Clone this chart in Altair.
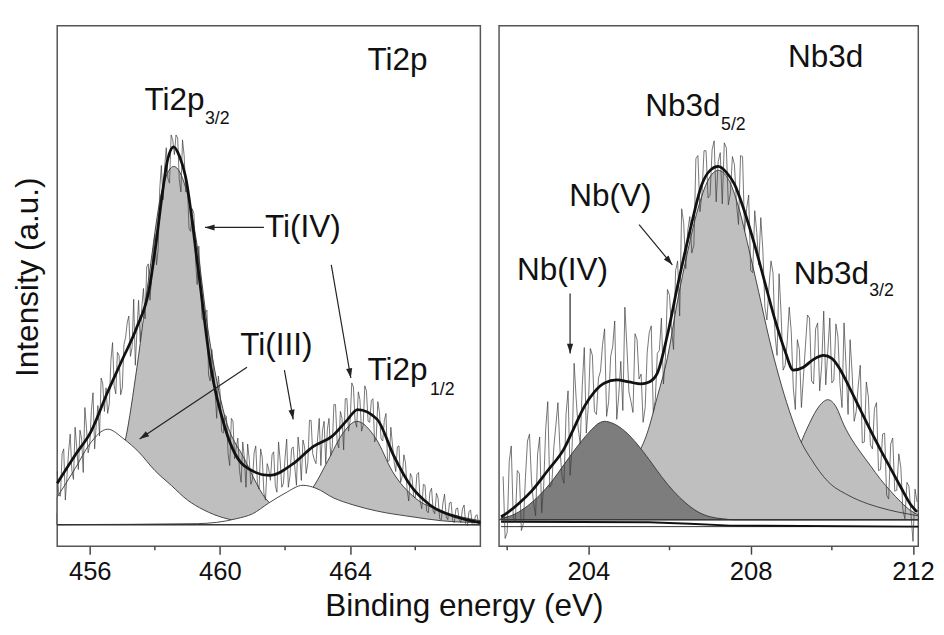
import altair as alt
import pandas as pd

FONT = "Liberation Sans"

# ---------------- Ti2p panel ----------------
ti_xdom = [455.0, 468.0]
ti_major = [456, 460, 464]
ti_minor = [458, 462, 466]
ti_base = 22

# raw spectrum, sampled every 0.05 eV (two interleaved lists)
ti_raw_ev = [round(455.0 + 0.1 * i, 2) for i in range(131)]
ti_raw_int = [76, 51, 99, 71, 114, 68, 100, 118, 75, 120,
              103, 156, 124, 112, 165, 161, 145, 207, 155, 194,
              161, 212, 234, 202, 184, 250, 243, 231, 287, 274,
              317, 301, 387, 385, 374, 418, 398, 415, 360, 397,
              365, 320, 338, 266, 274, 230, 240, 168, 178, 130,
              158, 115, 132, 82, 127, 100, 77, 106, 60, 88,
              68, 102, 58, 90, 47, 78, 93, 62, 106, 60,
              90, 60, 99, 80, 111, 67, 101, 85, 128, 88,
              110, 82, 127, 119, 92, 144, 106, 137, 98, 150,
              128, 162, 121, 149, 123, 158, 126, 150, 110, 136,
              107, 135, 87, 103, 76, 102, 71, 85, 46, 70,
              49, 75, 38, 62, 34, 59, 33, 49, 27, 53,
              27, 45, 24, 39, 24, 42, 21, 37, 22, 32, 22]
ti_raw_mid_ev = [round(455.05 + 0.1 * i, 2) for i in range(130)]
ti_raw_mid_int = [52, 94, 47, 96, 77, 121, 78, 109, 141, 95,
                  138, 99, 143, 171, 137, 135, 189, 163, 197, 154,
                  205, 227, 193, 251, 219, 208, 262, 284, 250, 301,
                  286, 363, 352, 405, 369, 413, 418, 373, 413, 360,
                  323, 343, 291, 305, 231, 237, 174, 200, 157, 173,
                  117, 133, 94, 130, 89, 110, 65, 90, 104, 63,
                  95, 64, 99, 54, 84, 67, 96, 55, 87, 64,
                  109, 71, 101, 62, 95, 108, 74, 128, 94, 84,
                  130, 118, 84, 130, 101, 144, 100, 130, 150, 117,
                  166, 128, 157, 117, 163, 127, 148, 106, 147, 109,
                  128, 86, 121, 86, 101, 65, 93, 57, 74, 51,
                  73, 46, 63, 36, 55, 36, 54, 28, 44, 30,
                  44, 26, 38, 27, 38, 23, 35, 22, 31, 22]

ti_env_ev = [455.0, 455.58, 456.03, 456.54, 456.99, 457.44, 457.83, 458.04, 458.22, 458.4,
             458.58, 458.76, 458.94, 459.33, 459.72, 460.14, 460.74, 461.53, 462.25, 462.85,
             463.45, 463.9, 464.23, 464.83, 465.34, 465.85, 466.45, 467.35, 468.0]
ti_env_int = [64, 94, 116, 156, 189, 222, 262, 309, 356, 394,
              406, 396, 376, 282, 182, 122, 82, 72, 84, 101,
              112, 128, 139, 129, 92, 62, 42, 29, 24]

# Ti(IV) 2p3/2 (grey)
ti4_32_ev = [455.0, 456.0, 456.6, 457.1, 457.45, 457.85, 458.2, 458.58, 458.95, 459.25,
             459.65, 460.15, 460.75, 461.5, 462.3, 463.5, 465.3, 468.0]
ti4_32_int = [34, 44, 69, 109, 182, 282, 359, 386, 364, 316,
              216, 132, 89, 45, 33, 27, 24, 22]
# Ti(IV) 2p1/2 (grey)
ti4_12_ev = [455.0, 460.8, 462.0, 462.9, 463.3, 463.8, 464.2, 464.8, 465.3, 466.0, 466.8, 468.0]
ti4_12_int = [22, 24, 34, 62, 86, 116, 127, 109, 76, 49, 36, 26]
# Ti(III) 2p3/2 (white)
ti3_32_ev = [455.0, 455.55, 456.0, 456.55, 457.05, 457.5, 458.0, 458.5, 459.0, 459.5,
             460.1, 461.1, 462.3, 468.0]
ti3_32_int = [50, 79, 104, 119, 109, 96, 77, 62, 47, 37, 29, 24, 23, 22]
# Ti(III) 2p1/2 (white)
ti3_12_ev = [455.0, 459.3, 460.5, 461.0, 461.5, 462.0, 462.55, 462.95, 463.5, 464.1,
             464.8, 465.9, 466.8, 468.0]
ti3_12_int = [22, 23, 28, 33, 44, 54, 62, 59, 49, 42, 36, 30, 26, 24]

ti_label_text = ["Ti2p", "Ti2p", "Ti(IV)", "Ti(III)", "Ti2p"]
ti_label_ev = [464.53, 457.68, 461.38, 460.62, 464.53]
ti_label_int = [484, 443, 314, 194, 169]
ti_sub_text = ["3/2", "1/2"]
ti_sub_ev = [459.54, 466.45]
ti_sub_int = [429, 154]

ti_arrow_from_ev = [461.35, 463.42, 460.83, 461.98]
ti_arrow_from_int = [324, 286, 182, 179]
ti_arrow_to_ev = [459.54, 464.02, 457.53, 462.25]
ti_arrow_to_int = [324, 171, 109, 129]
ti_arrow_angle = [270, 170, 236, 170]

# ---------------- Nb3d panel ----------------
nb_xdom = [201.8, 212.13]
nb_major = [204, 208, 212]
nb_minor = [202, 206, 210]
nb_base = 27

nb_raw_ev = [round(201.9 + 0.1 * i, 2) for i in range(103)]
nb_raw_int = [71, 14, 102, 25, 74, 23, 107, 66, 31, 111,
              62, 147, 63, 123, 99, 64, 158, 101, 150, 104,
              202, 143, 194, 134, 178, 221, 147, 203, 129, 188,
              243, 157, 136, 210, 175, 141, 217, 136, 196, 232,
              192, 255, 200, 290, 343, 282, 335, 306, 397, 358,
              402, 357, 412, 391, 348, 405, 359, 388, 327, 396,
              343, 280, 341, 286, 301, 230, 290, 215, 277, 179,
              208, 218, 139, 200, 172, 235, 168, 221, 158, 239,
              198, 166, 226, 165, 227, 134, 176, 137, 184, 106,
              152, 99, 146, 78, 115, 48, 110, 57, 80, 28,
              61, 5, 45]
nb_raw_mid_ev = [round(201.95 + 0.1 * i, 2) for i in range(102)]
nb_raw_mid_int = [8, 86, 29, 77, 16, 70, 114, 44, 94, 34,
                  120, 60, 101, 146, 72, 134, 72, 186, 120, 163,
                  115, 201, 137, 171, 205, 132, 193, 229, 154, 138,
                  203, 147, 216, 170, 126, 197, 224, 149, 199, 165,
                  261, 220, 280, 234, 328, 321, 298, 394, 340, 402,
                  354, 403, 350, 400, 410, 347, 396, 348, 397, 320,
                  357, 278, 319, 334, 243, 263, 278, 194, 236, 184,
                  243, 161, 210, 141, 204, 232, 165, 227, 184, 164,
                  232, 169, 213, 141, 183, 210, 127, 163, 105, 167,
                  103, 140, 77, 114, 52, 104, 56, 94, 37, 65,
                  33, 58]

nb_env_ev = [201.85, 202.0, 202.3, 202.6, 203.0, 203.4, 203.7, 203.9, 204.15, 204.4,
             204.7, 205.0, 205.3, 205.5, 205.7, 205.95, 206.2, 206.5, 206.8, 207.0,
             207.2, 207.4, 207.6, 207.85, 208.1, 208.35, 208.6, 208.85, 209.05, 209.3,
             209.55, 209.8, 210.0, 210.2, 210.45, 210.7, 210.95, 211.2, 211.45, 211.7,
             211.95, 212.1]
nb_env_int = [30, 34, 44, 56, 77, 99, 125, 142, 157, 166,
              169, 167, 165, 167, 176, 215, 265, 320, 368, 382,
              386, 380, 368, 340, 306, 268, 230, 198, 179, 182,
              190, 194, 191, 180, 160, 139, 118, 98, 79, 60,
              42, 35]

# Nb(IV) 3d5/2 (dark grey)
nb4_ev = [201.85, 202.2, 202.5, 202.8, 203.1, 203.4, 203.7, 204.0, 204.3, 204.4,
          204.6, 204.9, 205.2, 205.5, 205.8, 206.1, 206.4, 206.7, 207.0, 207.3, 207.6, 212.13]
nb4_int = [28, 33, 41, 52, 66, 83, 100, 115, 126, 127,
           125, 117, 104, 88, 71, 56, 44, 35, 30, 28, 27, 27]
# Nb(V) 3d5/2 (light grey)
nb5_52_ev = [201.85, 202.5, 203.0, 203.5, 204.0, 204.5, 205.0, 205.2, 205.45, 205.7,
             205.95, 206.2, 206.45, 206.7, 206.95, 207.2, 207.45, 207.7, 207.95, 208.2,
             208.45, 208.7, 208.95, 209.2, 209.5, 209.9, 210.4, 210.9, 211.4, 212.13]
nb5_52_int = [29, 33, 38, 45, 54, 66, 82, 92, 115, 152,
              192, 250, 300, 343, 372, 382, 373, 345, 303, 258,
              212, 172, 138, 110, 88, 66, 52, 43, 37, 31]
# Nb(V) 3d3/2 (light grey)
nb5_32_ev = [201.85, 207.5, 208.0, 208.5, 208.8, 209.0, 209.2, 209.45, 209.7, 209.9,
             210.1, 210.3, 210.5, 210.7, 210.95, 211.2, 211.45, 211.7, 211.95, 212.13]
nb5_32_int = [27, 28, 31, 38, 50, 70, 100, 125, 143, 149,
              142, 123, 108, 96, 82, 68, 56, 45, 36, 32]

nb_line0_ev = [201.85, 212.13]
nb_line0_int = [20, 20]
nb_shirley_ev = [201.85, 205.5, 206.5, 207.5, 212.13]
nb_shirley_int = [25, 24.5, 23, 21, 20]

nb_label_text = ["Nb3d", "Nb3d", "Nb(V)", "Nb(IV)", "Nb3d"]
nb_label_ev = [208.92, 205.40, 203.53, 202.24, 209.06]
nb_label_int = [487, 437, 346, 271, 267]
nb_sub_text = ["5/2", "3/2"]
nb_sub_ev = [207.27, 210.92]
nb_sub_int = [423, 254]

nb_arrow_from_ev = [205.25, 203.55]
nb_arrow_from_int = [327, 257]
nb_arrow_to_ev = [206.07, 203.55]
nb_arrow_to_int = [286, 196]
nb_arrow_angle = [140, 180]

LIGHT = "#bfbfbf"
DARK = "#7d7d7d"
INK = "#111111"
TICK = "#444444"


def df(ev, it):
    return pd.DataFrame({"ev": ev, "val": it})


def panel(xdom, width, comps, base_val, lines, raw, env, labels, subs, arrows,
          major, minor, ytitle):
    scale_x = alt.Scale(domain=xdom, nice=False, zero=False)
    scale_y = alt.Scale(domain=[0, 529], nice=False, zero=False)
    major_axis = alt.Axis(values=major, title=None, grid=False, domain=False,
                          tickSize=8, tickWidth=1.5, tickColor=TICK,
                          labelFont=FONT, labelFontSize=26, labelColor=INK,
                          labelPadding=5, labelFlush=False, labelOverlap=False,
                          orient="bottom")
    if ytitle:
        yaxis = alt.Axis(title=ytitle, labels=False, ticks=False, domain=False,
                         grid=False, titleFont=FONT, titleFontSize=32,
                         titleFontWeight="normal", titleColor=INK,
                         titlePadding=13, titleY=255)
    else:
        yaxis = None

    def X():
        return alt.X("ev:Q", scale=scale_x, axis=major_axis)

    def Y():
        return alt.Y("val:Q", scale=scale_y, axis=yaxis)

    layers = []
    for d, fill in comps:
        layers.append(
            alt.Chart(d).mark_area(fill=fill, stroke="#333", strokeWidth=0.9,
                                   interpolate="monotone")
            .encode(x=X(), y=Y(), y2=alt.datum(base_val)))
    for d, color, w in lines:
        layers.append(alt.Chart(d).mark_line(color=color, strokeWidth=w)
                      .encode(x=X(), y=Y()))
    layers.append(alt.Chart(raw).mark_line(color="#3a3a3a", strokeWidth=0.7)
                  .encode(x=X(), y=Y()))
    layers.append(alt.Chart(env).mark_line(color=INK, strokeWidth=2.8,
                                           interpolate="monotone")
                  .encode(x=X(), y=Y()))
    layers.append(alt.Chart(labels).mark_text(align="left", baseline="alphabetic",
                                              font=FONT, fontSize=32, color=INK)
                  .encode(x=X(), y=Y(), text="t:N"))
    layers.append(alt.Chart(subs).mark_text(align="left", baseline="alphabetic",
                                            font=FONT, fontSize=18, color=INK)
                  .encode(x=X(), y=Y(), text="t:N"))
    seg, heads = arrows
    layers.append(alt.Chart(seg).mark_line(color="#222", strokeWidth=1.2)
                  .encode(x=X(), y=Y(), detail="id:N"))
    layers.append(alt.Chart(heads).mark_point(shape="M0,0L-0.32,1L0.32,1Z",
                                              filled=True, size=380, color="#222",
                                              opacity=1, strokeWidth=0)
                  .encode(x=X(), y=Y(), angle=alt.Angle("ang:Q", scale=None)))
    # minor tick marks (half length) below the frame
    layers.append(alt.Chart(pd.DataFrame({"ev": minor})).mark_rule(
        color=TICK, strokeWidth=1.5).encode(
        x=X(), y=alt.value(529), y2=alt.value(533)))
    return alt.layer(*layers).properties(width=width, height=529)


def arrow_frames(fe, fi, te, ti, ang):
    rows = []
    for k in range(len(fe)):
        rows.append({"id": k, "ev": fe[k], "val": fi[k]})
        rows.append({"id": k, "ev": te[k], "val": ti[k]})
    return pd.DataFrame(rows), pd.DataFrame({"ev": te, "val": ti, "ang": ang})


ti_raw = df(ti_raw_ev + ti_raw_mid_ev, ti_raw_int + ti_raw_mid_int).sort_values("ev")
nb_raw = df(nb_raw_ev + nb_raw_mid_ev, nb_raw_int + nb_raw_mid_int).sort_values("ev")

ti_panel = panel(
    ti_xdom, 430,
    [(df(ti4_32_ev, ti4_32_int), LIGHT), (df(ti4_12_ev, ti4_12_int), LIGHT),
     (df(ti3_32_ev, ti3_32_int), "white"), (df(ti3_12_ev, ti3_12_int), "white")],
    ti_base,
    [(df(ti_xdom, [ti_base, ti_base]), "#333", 1.0)],
    ti_raw, df(ti_env_ev, ti_env_int),
    pd.DataFrame({"t": ti_label_text, "ev": ti_label_ev, "val": ti_label_int}),
    pd.DataFrame({"t": ti_sub_text, "ev": ti_sub_ev, "val": ti_sub_int}),
    arrow_frames(ti_arrow_from_ev, ti_arrow_from_int, ti_arrow_to_ev,
                 ti_arrow_to_int, ti_arrow_angle),
    ti_major, ti_minor, "Intensity (a.u.)")

nb_panel = panel(
    nb_xdom, 426,
    [(df(nb5_32_ev, nb5_32_int), LIGHT), (df(nb5_52_ev, nb5_52_int), LIGHT),
     (df(nb4_ev, nb4_int), DARK)],
    nb_base,
    [(df(nb_line0_ev, nb_line0_int), "#333", 1.0),
     (df(nb_xdom, [nb_base, nb_base]), "#333", 0.9),
     (df(nb_shirley_ev, nb_shirley_int), "#111", 2.0)],
    nb_raw, df(nb_env_ev, nb_env_int),
    pd.DataFrame({"t": nb_label_text, "ev": nb_label_ev, "val": nb_label_int}),
    pd.DataFrame({"t": nb_sub_text, "ev": nb_sub_ev, "val": nb_sub_int}),
    arrow_frames(nb_arrow_from_ev, nb_arrow_from_int, nb_arrow_to_ev,
                 nb_arrow_to_int, nb_arrow_angle),
    nb_major, nb_minor, None)

chart = alt.hconcat(ti_panel, nb_panel, spacing=7).properties(
    title=alt.TitleParams("Binding energy (eV)", orient="bottom", anchor="middle",
                          font=FONT, fontSize=32, fontWeight="normal",
                          color=INK, offset=6, dx=-9),
    padding={"left": 3, "top": 12, "right": 0, "bottom": 0},
).configure_view(stroke="#555", strokeWidth=1.5)

chart.save("out.html", embed_options={"renderer": "svg", "actions": False})
